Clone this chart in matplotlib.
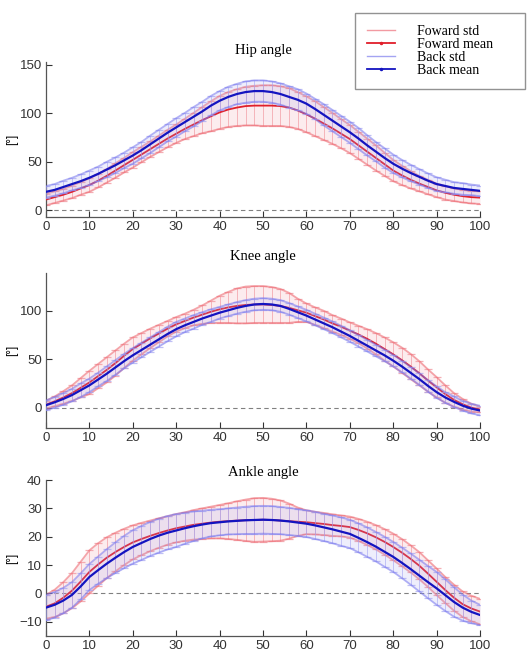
import numpy as np
import matplotlib
matplotlib.use("Agg")
from matplotlib import pyplot as plt
from matplotlib.lines import Line2D

# gait cycle [%], sampled every 2 %
cycle = list(range(0, 101, 2))

hip_fwd_mean = [11, 13.5, 16, 19, 22.5, 26, 30.5, 35.5, 41, 46.5, 52, 57.5, 63, 68.5, 74, 79, 84, 88.5, 93, 97,
                101, 104, 106, 107.5, 108, 108, 108, 107.5, 106, 103, 99, 94.5, 89.5, 84.5, 79, 73.5, 67, 60.5, 54, 47.5,
                41, 36, 31.5, 27.5, 24, 20.5, 18, 16, 14.5, 13.5, 13]
hip_fwd_std = [6, 6, 6, 6.5, 6.5, 7, 7, 7, 7.5, 7.5, 8, 8, 8, 8.5, 9, 9.5, 10.5, 12, 13.5, 15.5,
               17, 18, 19, 20, 20.5, 21, 21, 20.5, 20, 19, 18.5, 18, 17, 16, 15, 14.5, 14, 13.5, 13, 12,
               11, 10, 9, 8, 7.5, 7, 7, 6.5, 6.5, 6.5, 6.5]
hip_back_mean = [19, 21, 24, 27, 30, 33.5, 37.5, 42, 46.5, 51.5, 56.5, 62, 68, 74, 80, 85.5, 91, 96.5, 102, 108,
                 113, 117, 120, 122, 123, 123, 122, 120, 117, 114, 110, 104.5, 98.5, 92.5, 86.5, 80.5, 74, 67, 60.5, 54,
                 48, 43, 38.5, 34.5, 30.5, 27, 25, 23, 22, 21, 20]
hip_back_std = [6, 6, 6.5, 6.5, 7, 7.5, 7.5, 8, 8, 8, 8.5, 8.5, 9, 9, 9, 9.5, 9.5, 10, 10, 10,
                10, 10.5, 10.5, 11, 11, 11, 11, 11, 11, 11, 10.5, 10.5, 11, 11, 11, 11, 11, 10.5, 10, 10,
                9.5, 9, 8.5, 8, 7.5, 7, 6.5, 6, 6, 5.5, 5.5]

knee_fwd_mean = [3, 6.5, 10.5, 15, 20.5, 26, 32.5, 39, 46, 53.5, 60.5, 66, 71.5, 76.5, 81.5, 86, 89.5, 93, 96, 99,
                 101.5, 103.5, 105, 106, 106.5, 106.5, 106, 105, 103, 100.5, 98, 94.5, 91, 87, 83.5, 79.5, 75.5, 71, 66, 60.5,
                 55, 49, 42.5, 35.5, 28, 21, 14, 8, 3.5, 0, -2]
knee_fwd_std = [4, 5, 6.5, 8, 10, 12, 12.5, 13, 13, 12.5, 12, 11, 10, 9, 8, 7.5, 7.5, 8, 9.5, 11.5,
                14, 16, 18, 19, 19, 19, 18.5, 17.5, 15.5, 12, 9.5, 9, 9, 8.5, 8.5, 8.5, 9, 10, 11, 12,
                12.5, 13, 13, 12.5, 11.5, 10.5, 9, 7, 5.5, 4, 3]
knee_back_mean = [2.5, 5.5, 9, 13, 18, 23, 29, 35, 41.5, 48, 54, 59.5, 65, 70.5, 76, 81, 85, 88.5, 92, 95,
                  98, 100.5, 103, 105, 106.5, 107, 106.5, 105, 102, 98.5, 95, 91, 87, 83, 78.5, 74, 69, 64, 59, 54,
                  48.5, 42.5, 36, 29.5, 22.5, 16, 10.5, 6, 2, -1, -3]
knee_back_std = [5, 5.5, 6, 6.5, 7, 7, 7, 7.5, 7.5, 7.5, 7.5, 7.5, 7.5, 7.5, 7.5, 7.5, 7, 7, 6.5, 6.5,
                 6, 6, 6, 6, 6, 6, 6, 6, 6, 6, 6, 6, 6, 6, 6, 6, 6, 6, 6, 6,
                 6, 6, 6, 6, 6, 6, 5.5, 5.5, 5, 5, 5]

ankle_fwd_mean = [-4.7, -3.5, -1.5, 1, 4.2, 7.6, 10.2, 12.6, 14.6, 16.4, 18, 19.2, 20.3, 21.3, 22.2, 23, 23.6, 24.2, 24.6, 25,
                  25.3, 25.5, 25.7, 25.8, 25.9, 26, 25.9, 25.7, 25.5, 25.3, 25.1, 24.8, 24.5, 24.1, 23.8, 23.4, 22.4, 21.2, 19.8, 18.2,
                  16.4, 14.4, 12.2, 9.8, 7, 4.1, 1.2, -1.5, -3.8, -5.3, -6.4]
ankle_fwd_std = [4.2, 4.8, 5.5, 6.2, 7, 7.6, 7.5, 7.2, 6.8, 6.4, 6, 5.7, 5.4, 5.2, 5, 5, 5, 5.2, 5.4, 5.6,
                 5.9, 6.3, 6.8, 7.3, 7.7, 7.7, 7.5, 7.1, 6.2, 5, 4.2, 4, 3.9, 3.8, 3.7, 3.7, 3.9, 4.1, 4.3, 4.5,
                 4.7, 4.8, 4.8, 4.8, 4.7, 4.7, 4.6, 4.6, 4.5, 4.5, 4.5]
ankle_back_mean = [-5, -4, -2.5, -0.5, 2.5, 5.8, 8.2, 10.5, 12.6, 14.6, 16.4, 17.8, 19.2, 20.4, 21.4, 22.2, 23, 23.7, 24.3, 24.8,
                   25.1, 25.4, 25.6, 25.8, 25.9, 26, 25.9, 25.7, 25.4, 25, 24.6, 24, 23.3, 22.6, 21.8, 21, 19.6, 18.1, 16.5, 14.7,
                   12.9, 10.8, 8.6, 6.3, 4, 1.8, -0.6, -3, -5, -6.5, -7.6]
ankle_back_std = [4.5, 4.5, 4.5, 4.5, 4.6, 4.6, 4.8, 5.1, 5.4, 5.7, 5.9, 6, 6, 6, 5.9, 5.8, 5.5, 5.2, 4.9, 4.7,
                  4.6, 4.6, 4.7, 4.8, 4.9, 4.9, 4.9, 4.8, 4.8, 4.7, 4.7, 4.8, 4.8, 4.9, 5, 5, 5.1, 5.2, 5.2, 5.3,
                  5.3, 5.4, 5.5, 5.6, 5.7, 5.8, 5.6, 5.2, 4.6, 4, 3.6]

titles = ["Hip angle", "Knee angle", "Ankle angle"]
legend_labels = ["Foward std", "Foward mean", "Back std", "Back mean"]

panels = [
    (hip_fwd_mean, hip_fwd_std, hip_back_mean, hip_back_std, (-7, 153), [0, 50, 100, 150]),
    (knee_fwd_mean, knee_fwd_std, knee_back_mean, knee_back_std, (-21, 139), [0, 50, 100]),
    (ankle_fwd_mean, ankle_fwd_std, ankle_back_mean, ankle_back_std, (-15, 40), [-10, 0, 10, 20, 30, 40]),
]
# axes boxes in figure fractions
boxes = [
    [0.0866, 0.6697, 0.8174, 0.2359],
    [0.0866, 0.3486, 0.8174, 0.2359],
    [0.0866, 0.0320, 0.8174, 0.2374],
]
title_pads = [6, 9, 3]

red_std = "#f29aa2"
red_cap = "#ee6a72"
red_mean = "#e01e2a"
blue_std = "#a4a4f2"
blue_cap = "#7474ee"
blue_mean = "#1414c0"

tick_font = ["Liberation Sans Narrow", "Liberation Sans", "DejaVu Sans"]
serif_font = ["Liberation Serif", "DejaVu Serif"]

fig = plt.figure(figsize=(5.31, 6.57), dpi=100)

for (fm, fs, bm, bs, ylim, yticks), box, title, tpad in zip(panels, boxes, titles, title_pads):
    ax = fig.add_axes(box)
    x = np.array(cycle)
    fm, fs, bm, bs = map(np.array, (fm, fs, bm, bs))
    ax.plot([0, 100], [0, 0], linestyle=(0, (4, 3)), color="#808080", linewidth=0.8, zorder=1)

    # forward std band
    ax.fill_between(x, fm - fs, fm + fs, color=red_std, alpha=0.18, linewidth=0, zorder=2)
    ax.errorbar(x, fm, yerr=fs, fmt="none", ecolor=red_std, elinewidth=0.6, capsize=3.2,
                capthick=0.9, alpha=0.8, zorder=2)
    ax.plot(x, fm + fs, color=red_cap, linewidth=1.3, alpha=0.6, zorder=2)
    ax.plot(x, fm - fs, color=red_cap, linewidth=1.3, alpha=0.6, zorder=2)
    ax.plot(x, fm, color=red_mean, linewidth=1.3, zorder=3)

    # back std band
    ax.fill_between(x, bm - bs, bm + bs, color=blue_std, alpha=0.18, linewidth=0, zorder=4)
    ax.errorbar(x, bm, yerr=bs, fmt="none", ecolor=blue_std, elinewidth=0.6, capsize=3.2,
                capthick=0.9, alpha=0.7, zorder=4)
    ax.plot(x, bm + bs, color=blue_cap, linewidth=1.3, alpha=0.55, zorder=4)
    ax.plot(x, bm - bs, color=blue_cap, linewidth=1.3, alpha=0.55, zorder=4)
    ax.plot(x, bm, color=blue_mean, linewidth=1.6, zorder=5)

    ax.set_xlim(0, 100)
    ax.set_ylim(*ylim)
    ax.set_xticks(range(0, 101, 10))
    ax.set_yticks(yticks)
    ax.tick_params(direction="in", length=4, width=0.8, colors="#333333", labelsize=9.5, pad=3)
    for lab in ax.get_xticklabels() + ax.get_yticklabels():
        lab.set_family(tick_font)
    ax.spines["top"].set_visible(False)
    ax.spines["right"].set_visible(False)
    for s in ("left", "bottom"):
        ax.spines[s].set_color("#555555")
        ax.spines[s].set_linewidth(0.9)
    ax.set_title(title, family=serif_font, fontsize=10.5, pad=tpad)
    ax.set_ylabel("[°]", family=tick_font, fontsize=8.5)
    ax.yaxis.set_label_coords(-0.064, 0.5)

handles = [
    Line2D([], [], color=red_std, linewidth=1.0),
    Line2D([], [], color=red_mean, linewidth=1.3, marker=".", markersize=3),
    Line2D([], [], color=blue_std, linewidth=1.0),
    Line2D([], [], color=blue_mean, linewidth=1.3, marker=".", markersize=3),
]
leg = fig.legend(handles, legend_labels, loc="upper left",
                 bbox_to_anchor=(0.6685, 0.8630, 0.3202, 0.1172), mode="expand",
                 prop={"family": serif_font, "size": 10}, frameon=True, fancybox=False,
                 labelspacing=0.0, handlelength=2.0, handletextpad=1.6, borderpad=0.85,
                 numpoints=1, borderaxespad=0)
leg.get_frame().set_edgecolor("#777777")
leg.get_frame().set_linewidth(1.0)

fig.savefig("out.png", dpi=100)
